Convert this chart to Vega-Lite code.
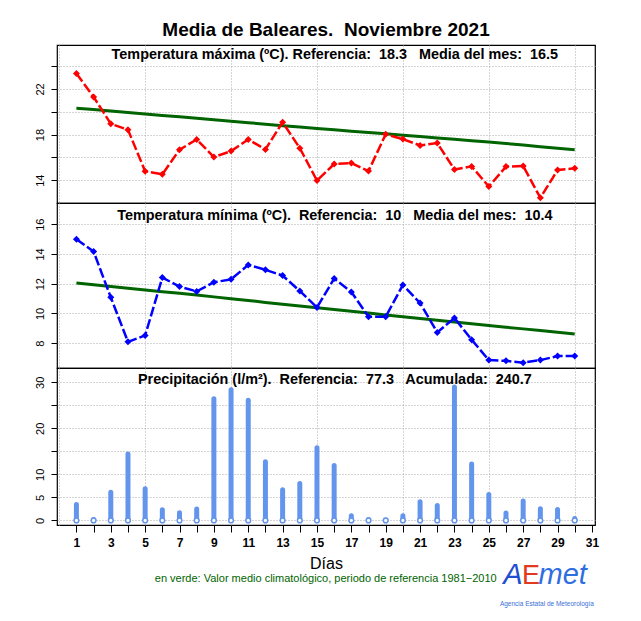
{
  "$schema": "https://vega.github.io/schema/vega-lite/v6.json",
  "padding": {"left": 33, "top": 20, "right": 5, "bottom": 5},
  "background": "white",
  "config": {
    "font": "Liberation Sans",
    "view": {"stroke": "#000000", "strokeWidth": 1.2},
    "axis": {"domain": false, "tickColor": "#000000", "tickSize": 6, "labelColor": "#000000", "labelFontSize": 11, "gridColor": "#a8a8a8", "gridDash": [1, 2], "gridWidth": 1, "labelFlush": false, "labelOverlap": false}
  },
  "data": {"values": [
    {"dia": 1, "tmax": 23.36, "tmax_c": 20.31, "tmin": 14.99, "tmin_c": 12.05, "prec": 3.47},
    {"dia": 2, "tmax": 21.30, "tmax_c": 20.19, "tmin": 14.16, "tmin_c": 11.93, "prec": 0.2},
    {"dia": 3, "tmax": 18.94, "tmax_c": 20.06, "tmin": 11.08, "tmin_c": 11.81, "prec": 6.14},
    {"dia": 4, "tmax": 18.42, "tmax_c": 19.93, "tmin": 8.09, "tmin_c": 11.69, "prec": 14.4},
    {"dia": 5, "tmax": 14.78, "tmax_c": 19.80, "tmin": 8.52, "tmin_c": 11.57, "prec": 6.86},
    {"dia": 6, "tmax": 14.51, "tmax_c": 19.68, "tmin": 12.41, "tmin_c": 11.46, "prec": 2.3},
    {"dia": 7, "tmax": 16.67, "tmax_c": 19.56, "tmin": 11.80, "tmin_c": 11.35, "prec": 1.65},
    {"dia": 8, "tmax": 17.57, "tmax_c": 19.43, "tmin": 11.48, "tmin_c": 11.23, "prec": 2.45},
    {"dia": 9, "tmax": 16.03, "tmax_c": 19.30, "tmin": 12.09, "tmin_c": 11.11, "prec": 26.4},
    {"dia": 10, "tmax": 16.55, "tmax_c": 19.17, "tmin": 12.29, "tmin_c": 10.99, "prec": 28.4},
    {"dia": 11, "tmax": 17.57, "tmax_c": 19.04, "tmin": 13.26, "tmin_c": 10.87, "prec": 26.1},
    {"dia": 12, "tmax": 16.70, "tmax_c": 18.91, "tmin": 12.93, "tmin_c": 10.74, "prec": 12.75},
    {"dia": 13, "tmax": 19.08, "tmax_c": 18.78, "tmin": 12.54, "tmin_c": 10.62, "prec": 6.64},
    {"dia": 14, "tmax": 16.81, "tmax_c": 18.66, "tmin": 11.51, "tmin_c": 10.50, "prec": 8.03},
    {"dia": 15, "tmax": 13.97, "tmax_c": 18.54, "tmin": 10.40, "tmin_c": 10.38, "prec": 15.8},
    {"dia": 16, "tmax": 15.42, "tmax_c": 18.42, "tmin": 12.34, "tmin_c": 10.26, "prec": 11.95},
    {"dia": 17, "tmax": 15.50, "tmax_c": 18.30, "tmin": 11.44, "tmin_c": 10.14, "prec": 1.0},
    {"dia": 18, "tmax": 14.80, "tmax_c": 18.18, "tmin": 9.78, "tmin_c": 10.02, "prec": 0.2},
    {"dia": 19, "tmax": 18.03, "tmax_c": 18.06, "tmin": 9.78, "tmin_c": 9.90, "prec": 0.1},
    {"dia": 20, "tmax": 17.60, "tmax_c": 17.94, "tmin": 11.91, "tmin_c": 9.78, "prec": 1.0},
    {"dia": 21, "tmax": 17.05, "tmax_c": 17.82, "tmin": 10.70, "tmin_c": 9.66, "prec": 4.03},
    {"dia": 22, "tmax": 17.25, "tmax_c": 17.70, "tmin": 8.72, "tmin_c": 9.54, "prec": 3.25},
    {"dia": 23, "tmax": 14.93, "tmax_c": 17.58, "tmin": 9.69, "tmin_c": 9.42, "prec": 29.0},
    {"dia": 24, "tmax": 15.21, "tmax_c": 17.46, "tmin": 8.23, "tmin_c": 9.30, "prec": 12.25},
    {"dia": 25, "tmax": 13.44, "tmax_c": 17.34, "tmin": 6.86, "tmin_c": 9.18, "prec": 5.64},
    {"dia": 26, "tmax": 15.19, "tmax_c": 17.22, "tmin": 6.81, "tmin_c": 9.07, "prec": 1.58},
    {"dia": 27, "tmax": 15.24, "tmax_c": 17.08, "tmin": 6.69, "tmin_c": 8.96, "prec": 4.19},
    {"dia": 28, "tmax": 12.45, "tmax_c": 16.94, "tmin": 6.86, "tmin_c": 8.85, "prec": 2.52},
    {"dia": 29, "tmax": 14.89, "tmax_c": 16.80, "tmin": 7.13, "tmin_c": 8.73, "prec": 2.39},
    {"dia": 30, "tmax": 15.04, "tmax_c": 16.66, "tmin": 7.13, "tmin_c": 8.62, "prec": 0.4}
  ]},
  "spacing": 0,
  "bounds": "flush",
  "vconcat": [
    {
      "width": 538, "height": 158,
      "title": {"text": "Media de Baleares.\u00a0 Noviembre 2021", "fontSize": 19, "fontWeight": "bold", "anchor": "middle", "offset": 5, "color": "#000000"},
      "layer": [
        {"mark": {"type": "line", "color": "#006400", "strokeWidth": 3},
         "encoding": {
           "x": {"field": "dia", "type": "quantitative", "scale": {"domain": [-0.13, 31.18], "nice": false, "zero": false}, "axis": {"values": [0, 5, 10, 15, 20, 25, 30], "labels": false, "ticks": false, "grid": true, "title": null}},
           "y": {"field": "tmax_c", "type": "quantitative", "scale": {"domain": [12.0, 25.85], "nice": false, "zero": false}, "axis": {"values": [14, 16, 18, 20, 22, 24], "labelExpr": "datum.value == 14 || datum.value == 18 || datum.value == 22 ? datum.label : ''", "labelAngle": 270, "grid": true, "title": null, "labelPadding": 6}}}},
        {"mark": {"type": "line", "color": "#ff0000", "strokeWidth": 2.5, "strokeDash": [10, 3]},
         "encoding": {
           "x": {"field": "dia", "type": "quantitative", "axis": {"values": [0, 5, 10, 15, 20, 25, 30], "labels": false, "ticks": false, "grid": true, "title": null}},
           "y": {"field": "tmax", "type": "quantitative", "axis": {"values": [14, 16, 18, 20, 22, 24], "labelExpr": "datum.value == 14 || datum.value == 18 || datum.value == 22 ? datum.label : ''", "labelAngle": 270, "grid": true, "title": null, "labelPadding": 6}}}},
        {"mark": {"type": "point", "shape": "diamond", "filled": true, "color": "#ff0000", "size": 49, "opacity": 1},
         "encoding": {
           "x": {"field": "dia", "type": "quantitative", "axis": {"values": [0, 5, 10, 15, 20, 25, 30], "labels": false, "ticks": false, "grid": true, "title": null}},
           "y": {"field": "tmax", "type": "quantitative", "axis": {"values": [14, 16, 18, 20, 22, 24], "labelExpr": "datum.value == 14 || datum.value == 18 || datum.value == 22 ? datum.label : ''", "labelAngle": 270, "grid": true, "title": null, "labelPadding": 6}}}},
        {"data": {"values": [{"t": "Temperatura máxima (ºC). Referencia:\u00a0 18.3\u00a0\u00a0 Media del mes:\u00a0 16.5"}]},
         "mark": {"type": "text", "fontSize": 14.4, "fontWeight": "bold", "color": "#000000", "align": "center", "baseline": "middle"},
         "encoding": {
           "x": {"datum": 16.04, "axis": {"values": [0, 5, 10, 15, 20, 25, 30], "labels": false, "ticks": false, "grid": true, "title": null}},
           "y": {"datum": 24.97, "axis": {"values": [14, 16, 18, 20, 22, 24], "labelExpr": "datum.value == 14 || datum.value == 18 || datum.value == 22 ? datum.label : ''", "labelAngle": 270, "grid": true, "title": null, "labelPadding": 6}},
           "text": {"field": "t"}}}
      ]
    },
    {
      "width": 538, "height": 165,
      "layer": [
        {"mark": {"type": "line", "color": "#006400", "strokeWidth": 3},
         "encoding": {
           "x": {"field": "dia", "type": "quantitative", "scale": {"domain": [-0.13, 31.18], "nice": false, "zero": false}, "axis": {"values": [0, 5, 10, 15, 20, 25, 30], "labels": false, "ticks": false, "grid": true, "title": null}},
           "y": {"field": "tmin_c", "type": "quantitative", "scale": {"domain": [6.33, 17.42], "nice": false, "zero": false}, "axis": {"values": [8, 10, 12, 14, 16], "labelAngle": 270, "grid": true, "title": null, "labelPadding": 6}}}},
        {"mark": {"type": "line", "color": "#0000ff", "strokeWidth": 2.5, "strokeDash": [10, 3]},
         "encoding": {
           "x": {"field": "dia", "type": "quantitative", "axis": {"values": [0, 5, 10, 15, 20, 25, 30], "labels": false, "ticks": false, "grid": true, "title": null}},
           "y": {"field": "tmin", "type": "quantitative", "axis": {"values": [8, 10, 12, 14, 16], "labelAngle": 270, "grid": true, "title": null, "labelPadding": 6}}}},
        {"mark": {"type": "point", "shape": "diamond", "filled": true, "color": "#0000ff", "size": 49, "opacity": 1},
         "encoding": {
           "x": {"field": "dia", "type": "quantitative", "axis": {"values": [0, 5, 10, 15, 20, 25, 30], "labels": false, "ticks": false, "grid": true, "title": null}},
           "y": {"field": "tmin", "type": "quantitative", "axis": {"values": [8, 10, 12, 14, 16], "labelAngle": 270, "grid": true, "title": null, "labelPadding": 6}}}},
        {"data": {"values": [{"t": "Temperatura mínima (ºC).\u00a0 Referencia:\u00a0 10\u00a0\u00a0 Media del mes:\u00a0 10.4"}]},
         "mark": {"type": "text", "fontSize": 14.4, "fontWeight": "bold", "color": "#000000", "align": "center", "baseline": "middle"},
         "encoding": {
           "x": {"datum": 16.04, "axis": {"values": [0, 5, 10, 15, 20, 25, 30], "labels": false, "ticks": false, "grid": true, "title": null}},
           "y": {"datum": 16.52, "axis": {"values": [8, 10, 12, 14, 16], "labelAngle": 270, "grid": true, "title": null, "labelPadding": 6}},
           "text": {"field": "t"}}}
      ]
    },
    {
      "width": 538, "height": 157,
      "resolve": {"axis": {"x": "independent"}},
      "layer": [
        {"mark": {"type": "rule", "color": "#6495ED", "strokeWidth": 5, "strokeCap": "round"},
         "encoding": {
           "x": {"field": "dia", "type": "quantitative", "scale": {"domain": [-0.13, 31.18], "nice": false, "zero": false}, "axis": {"orient": "top", "values": [0, 5, 10, 15, 20, 25, 30], "labels": false, "ticks": false, "grid": true, "title": null}},
           "y": {"field": "prec", "type": "quantitative", "scale": {"domain": [-1, 33.1], "nice": false, "zero": false}, "axis": {"values": [0, 5, 10, 15, 20, 25, 30], "labelExpr": "datum.value == 15 || datum.value == 25 ? '' : datum.label", "labelAngle": 270, "grid": true, "title": null, "labelPadding": 6}},
           "y2": {"datum": 0}}},
        {"mark": {"type": "point", "shape": "circle", "filled": true, "fill": "#ffffff", "stroke": "#6495ED", "strokeWidth": 1.5, "size": 22, "opacity": 1},
         "encoding": {
           "x": {"field": "dia", "type": "quantitative", "axis": {"orient": "bottom", "values": [1,2,3,4,5,6,7,8,9,10,11,12,13,14,15,16,17,18,19,20,21,22,23,24,25,26,27,28,29,30,31], "labelExpr": "datum.value % 2 == 1 ? datum.label : ''", "labelFontWeight": "bold", "labelFontSize": 12, "tickSize": 7, "grid": false, "labelPadding": 5, "title": "Días", "titleFontSize": 16, "titleFontWeight": "normal", "titleColor": "#000000", "titlePadding": 7}},
           "y": {"datum": 0, "axis": {"values": [0, 5, 10, 15, 20, 25, 30], "labelExpr": "datum.value == 15 || datum.value == 25 ? '' : datum.label", "labelAngle": 270, "grid": true, "title": null, "labelPadding": 6}}}},
        {"data": {"values": [{"t": "Precipitación (l/m²).\u00a0 Referencia:\u00a0 77.3\u00a0\u00a0 Acumulada:\u00a0 240.7"}]},
         "mark": {"type": "text", "fontSize": 14.4, "fontWeight": "bold", "color": "#000000", "align": "center", "baseline": "middle"},
         "encoding": {"x": {"datum": 16.04, "axis": null}, "y": {"datum": 30.4, "axis": {"values": [0, 5, 10, 15, 20, 25, 30], "labelExpr": "datum.value == 15 || datum.value == 25 ? '' : datum.label", "labelAngle": 270, "grid": true, "title": null, "labelPadding": 6}}, "text": {"field": "t"}}},
        {"data": {"values": [{"t": "en verde: Valor medio climatológico, periodo de referencia 1981−2010"}]},
         "mark": {"type": "text", "fontSize": 11, "color": "#006400", "align": "center", "baseline": "middle"},
         "encoding": {"x": {"datum": 15.51, "axis": null}, "y": {"datum": -12.65, "axis": {"values": [0, 5, 10, 15, 20, 25, 30], "labelExpr": "datum.value == 15 || datum.value == 25 ? '' : datum.label", "labelAngle": 270, "grid": true, "title": null, "labelPadding": 6}}, "text": {"field": "t"}}},
        {"data": {"values": [{"t": "A"}]},
         "mark": {"type": "text", "fontSize": 29, "fontStyle": "italic", "color": "#1f4fd0", "align": "center", "baseline": "alphabetic"},
         "encoding": {"x": {"datum": 26.4, "axis": null}, "y": {"datum": -13.9, "axis": {"values": [0, 5, 10, 15, 20, 25, 30], "labelExpr": "datum.value == 15 || datum.value == 25 ? '' : datum.label", "labelAngle": 270, "grid": true, "title": null, "labelPadding": 6}}, "text": {"field": "t"}}},
        {"data": {"values": [{"t": "E"}]},
         "mark": {"type": "text", "fontSize": 27, "color": "#e23a1e", "align": "center", "baseline": "alphabetic"},
         "encoding": {"x": {"datum": 27.45, "axis": null}, "y": {"datum": -13.9, "axis": {"values": [0, 5, 10, 15, 20, 25, 30], "labelExpr": "datum.value == 15 || datum.value == 25 ? '' : datum.label", "labelAngle": 270, "grid": true, "title": null, "labelPadding": 6}}, "text": {"field": "t"}}},
        {"data": {"values": [{"t": "met"}]},
         "mark": {"type": "text", "fontSize": 29, "fontStyle": "italic", "color": "#2f6ee0", "align": "center", "baseline": "alphabetic"},
         "encoding": {"x": {"datum": 29.3, "axis": null}, "y": {"datum": -13.9, "axis": {"values": [0, 5, 10, 15, 20, 25, 30], "labelExpr": "datum.value == 15 || datum.value == 25 ? '' : datum.label", "labelAngle": 270, "grid": true, "title": null, "labelPadding": 6}}, "text": {"field": "t"}}},
        {"data": {"values": [{"t": "Agencia Estatal de Meteorología"}]},
         "mark": {"type": "text", "fontSize": 6.5, "color": "#3a6fd8", "align": "center", "baseline": "middle"},
         "encoding": {"x": {"datum": 28.38, "axis": null}, "y": {"datum": -18.05, "axis": {"values": [0, 5, 10, 15, 20, 25, 30], "labelExpr": "datum.value == 15 || datum.value == 25 ? '' : datum.label", "labelAngle": 270, "grid": true, "title": null, "labelPadding": 6}}, "text": {"field": "t"}}}
      ]
    }
  ]
}
